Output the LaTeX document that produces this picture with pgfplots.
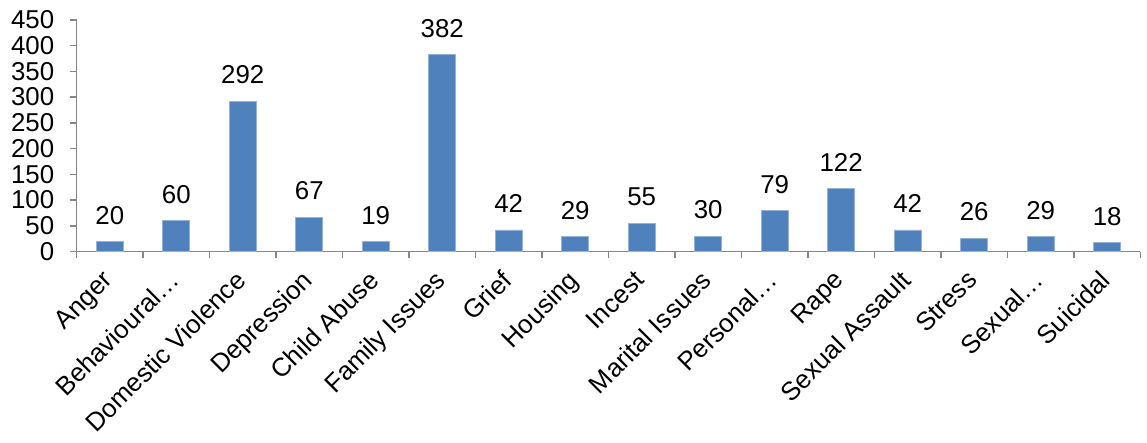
\documentclass[border=0pt]{standalone}
\usepackage{fontspec}
\setmainfont{Liberation Sans}
\usepackage{pgfplots}
\pgfplotsset{compat=1.18}
\definecolor{barblue}{HTML}{4F81BD}
\definecolor{axisgray}{HTML}{868686}

\begin{document}
\begin{tikzpicture}
\begin{axis}[
    scale only axis,
    width=535pt, height=116.5pt,
    xmin=-0.5, xmax=15.5,
    ymin=0, ymax=450,
    ytick distance=50,
    axis x line*=bottom, axis y line*=left,
    axis line style={draw=axisgray, line width=0.8pt},
    tick align=outside,
    major tick length=3.5pt,
    tick style={draw=axisgray, line width=0.8pt},
    font=\fontsize{13}{15}\selectfont,
    /pgf/number format/assume math mode=true,
    yticklabel style={xshift=-4.2pt},
    xtick={-0.5,0.5,...,15.5},
    xticklabels={},
    extra x ticks={0,...,15},
    extra x tick labels={Anger,Behavioural…,Domestic Violence,Depression,Child Abuse,Family Issues,Grief,Housing,Incest,Marital Issues,Personal…,Rape,Sexual Assault,Stress,Sexual…,Suicidal},
    extra x tick style={major tick length=0pt, tick label style={rotate=45, anchor=north east, xshift=-5.8pt, yshift=0.4pt}},
    ybar, bar width=13.5pt,
    nodes near coords,
    every node near coord/.append style={font=\fontsize{13}{15}\selectfont, text=black, yshift=5pt},
]
\addplot[fill=barblue, draw=barblue!60!white, line width=0.4pt] coordinates {
    (0,20) (1,60) (2,292) (3,67) (4,19) (5,382) (6,42) (7,29)
    (8,55) (9,30) (10,79) (11,122) (12,42) (13,26) (14,29) (15,18)
};
\end{axis}
\path ([yshift=10pt]current axis.north west);
\path ([xshift=-38.5pt]current axis.south west);
\end{tikzpicture}
\end{document}
